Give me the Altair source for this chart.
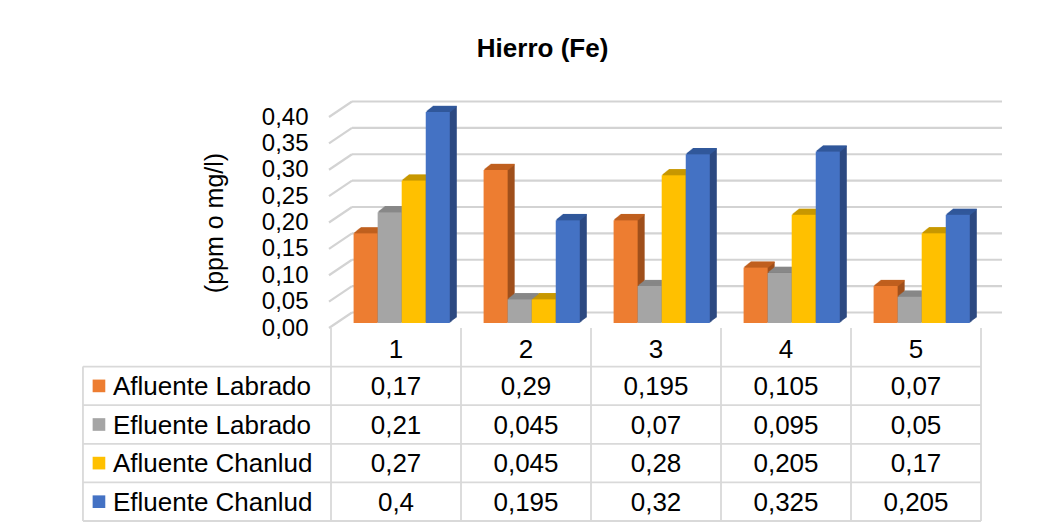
import altair as alt
import pandas as pd

# ---------------- data ----------------
categories = ["1", "2", "3", "4", "5"]
series = ["Afluente Labrado", "Efluente Labrado", "Afluente Chanlud", "Efluente Chanlud"]
afluente_labrado = [0.17, 0.29, 0.195, 0.105, 0.07]
efluente_labrado = [0.21, 0.045, 0.07, 0.095, 0.05]
afluente_chanlud = [0.27, 0.045, 0.28, 0.205, 0.17]
efluente_chanlud = [0.4, 0.195, 0.32, 0.325, 0.205]
y_ticks = [0.0, 0.05, 0.10, 0.15, 0.20, 0.25, 0.30, 0.35, 0.40]

# ---------------- styles ----------------
FONT = "Liberation Sans"
colors = ["#ED7D31", "#A5A5A5", "#FFC000", "#4472C4"]
side_colors = ["#A0501C", "#727272", "#B08500", "#2C4A82"]
top_colors = ["#C0601F", "#888888", "#C89800", "#31589B"]
GRID = "#d3d3d3"
TABLE_LINE = "#d9d9d9"

GROUP_START = 0.12   # in column units
BAR_W = 0.185
FRONT_DX, FRONT_DY = 7, -5       # bars sit a bit behind the front plane
DEPTH = 7                        # extrusion steps (px)
STEP_DY = 0.8
WALL_DX, WALL_DY = 21, -15.5     # back wall offset
LABEL_COL = -1.908               # left edge of the table label column

values = [afluente_labrado, efluente_labrado, afluente_chanlud, efluente_chanlud]
recs = []
for si, (name, vals) in enumerate(zip(series, values)):
    for ci, (cat, v) in enumerate(zip(categories, vals)):
        recs.append({"series": name, "si": si, "cat": cat, "ci": ci, "value": v,
                     "label": str(v).replace(".", ",")})
df = pd.DataFrame(recs)
ticks_df = pd.DataFrame({"v": y_ticks})
cat_df = pd.DataFrame({"cat": categories, "ci": list(range(len(categories)))})
ser_df = pd.DataFrame({"series": series, "si": list(range(len(series)))})
n_rows = len(series) + 1
n_cols = len(categories)

xs = alt.Scale(domain=[0, n_cols], nice=False, zero=False)
ys = alt.Scale(domain=[0, 0.4], nice=False, zero=False)
ts = alt.Scale(domain=[0, n_rows], range=[211, 404], nice=False, zero=False)

# ---------------- back wall grid + left wall diagonals ----------------
grid = alt.Chart(ticks_df).transform_calculate(xa="0", xb=str(n_cols)).mark_rule(
    color=GRID, strokeWidth=2.2, xOffset=WALL_DX, x2Offset=WALL_DX, yOffset=WALL_DY
).encode(
    x=alt.X("xa:Q", scale=xs, axis=None),
    x2="xb:Q",
    y=alt.Y("v:Q", scale=ys, axis=alt.Axis(
        values=y_ticks,
        labelExpr="replace(format(datum.value, '.2f'), '.', ',')",
        domain=False, ticks=False, grid=False, labelOverlap=False,
        labelPadding=23, labelFont=FONT, labelFontSize=24, labelColor="#000",
        title="(ppm o mg/l)", titleFont=FONT, titleFontSize=25,
        titleFontWeight="normal", titleColor="#000", titlePadding=34)),
)

diag = alt.Chart(ticks_df).transform_calculate(xa="0").mark_rule(
    color=GRID, strokeWidth=2.2, xOffset=-2, x2Offset=WALL_DX, y2Offset=WALL_DY
).encode(
    x=alt.X("xa:Q", scale=xs, axis=None),
    x2="xa:Q",
    y=alt.Y("v:Q", scale=ys, axis=None),
    y2="v:Q",
)

# ---------------- 3D bars ----------------
bars_base = alt.Chart(df).transform_calculate(
    x0=f"datum.ci + {GROUP_START} + datum.si * {BAR_W}",
    x1=f"datum.ci + {GROUP_START} + (datum.si + 1) * {BAR_W}",
    base="0",
)


def bar_layer(dx, dy, dy2, color_range, top=False):
    enc = dict(
        x=alt.X("x0:Q", scale=xs, axis=None),
        x2="x1:Q",
        y=alt.Y("value:Q", scale=ys, axis=None),
        y2="value:Q" if top else "base:Q",
        color=alt.Color("series:N", scale=alt.Scale(domain=series, range=color_range), legend=None),
    )
    return bars_base.mark_rect(xOffset=dx, x2Offset=dx, yOffset=dy, y2Offset=dy2).encode(**enc)


layers = [grid, diag]
for k in range(DEPTH, 0, -1):
    d = FRONT_DY - STEP_DY * k
    layers.append(bar_layer(FRONT_DX + k, d, d, side_colors))
for k in range(1, DEPTH + 1):
    layers.append(bar_layer(FRONT_DX + k, FRONT_DY - STEP_DY * k - 0.6,
                            FRONT_DY - STEP_DY * (k - 1), top_colors, top=True))
layers.append(bar_layer(FRONT_DX, FRONT_DY, FRONT_DY, colors))

# ---------------- data table ----------------
hlines = alt.Chart(pd.DataFrame({"r": list(range(1, n_rows + 1))})).transform_calculate(
    xa=str(LABEL_COL), xb=str(n_cols)
).mark_rule(color=TABLE_LINE, strokeWidth=1.8).encode(
    x=alt.X("xa:Q", scale=xs, axis=None), x2="xb:Q",
    y=alt.Y("r:Q", scale=ts, axis=None),
)
vlines = alt.Chart(pd.DataFrame({"c": list(range(0, n_cols + 1))})).transform_calculate(
    ya="0", yb=str(n_rows)
).mark_rule(color=TABLE_LINE, strokeWidth=1.8).encode(
    x=alt.X("c:Q", scale=xs, axis=None),
    y=alt.Y("ya:Q", scale=ts, axis=None), y2="yb:Q",
)
lline = alt.Chart(pd.DataFrame({"c": [LABEL_COL]})).transform_calculate(
    ya="1", yb=str(n_rows)
).mark_rule(color=TABLE_LINE, strokeWidth=1.8).encode(
    x=alt.X("c:Q", scale=xs, axis=None),
    y=alt.Y("ya:Q", scale=ts, axis=None), y2="yb:Q",
)

head_text = alt.Chart(cat_df).transform_calculate(xc="datum.ci + 0.5", yc="0.5").mark_text(
    font=FONT, fontSize=26, color="#000", baseline="middle", align="center", dy=3
).encode(
    x=alt.X("xc:Q", scale=xs, axis=None),
    y=alt.Y("yc:Q", scale=ts, axis=None),
    text="cat:N",
)
val_text = alt.Chart(df).transform_calculate(xc="datum.ci + 0.5", yc="datum.si + 1.5").mark_text(
    font=FONT, fontSize=26, color="#000", baseline="middle", align="center", dy=1
).encode(
    x=alt.X("xc:Q", scale=xs, axis=None),
    y=alt.Y("yc:Q", scale=ts, axis=None),
    text="label:N",
)
ser_text = alt.Chart(ser_df).transform_calculate(xc=str(LABEL_COL), yc="datum.si + 1.5").mark_text(
    font=FONT, fontSize=26, color="#000", baseline="middle", align="left", xOffset=30, dy=1
).encode(
    x=alt.X("xc:Q", scale=xs, axis=None),
    y=alt.Y("yc:Q", scale=ts, axis=None),
    text="series:N",
)
ser_sq = alt.Chart(ser_df).transform_calculate(xc=str(LABEL_COL), yc="datum.si + 1.5").mark_square(
    size=160, opacity=1, xOffset=16
).encode(
    x=alt.X("xc:Q", scale=xs, axis=None),
    y=alt.Y("yc:Q", scale=ts, axis=None),
    color=alt.Color("series:N", scale=alt.Scale(domain=series, range=colors), legend=None),
)

layers += [hlines, vlines, lline, head_text, val_text, ser_text, ser_sq]

chart = alt.layer(*layers).resolve_scale(y="independent", color="independent").properties(
    width=650, height=211,
    autosize=alt.AutoSizeParams(type="none"),
    padding={"left": 323, "top": 109, "right": 60, "bottom": 194},
    background="white",
    title=alt.TitleParams("Hierro (Fe)", font=FONT, fontSize=26, fontWeight="bold",
                          anchor="middle", frame="bounds", offset=38, color="#000"),
).configure_view(stroke=None)

chart.save("out.html", embed_options={"renderer": "svg", "actions": False})
